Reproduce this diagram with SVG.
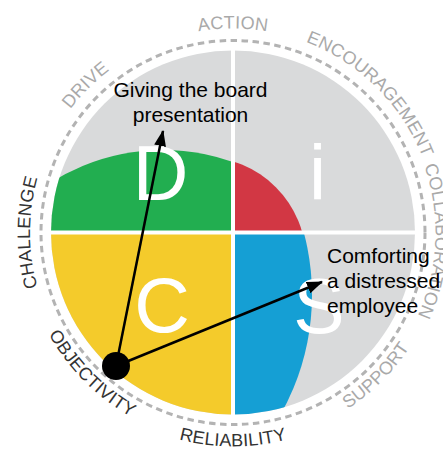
<svg xmlns="http://www.w3.org/2000/svg" width="443" height="452" viewBox="0 0 443 452">
<style>
.big{font-family:"Liberation Sans",Arial,sans-serif;font-size:77px;fill:#ffffff;text-anchor:middle}
.lbl{font-family:"Liberation Sans",Arial,sans-serif;font-size:18px;letter-spacing:0.2px;text-anchor:middle}
.lo{fill:#a9a9a9}
.hi{fill:#333333}
.note{font-family:"Liberation Sans",Arial,sans-serif;font-size:21px;fill:#000000}
.conn{stroke:#000000;stroke-width:2.5;fill:none}
</style>
<defs>
<clipPath id="qD"><path d="M233,232.5 L51,232.5 A182,182 0 0 1 233,50.5 Z"/></clipPath>
<clipPath id="qI"><path d="M233,232.5 L233,50.5 A182,182 0 0 1 415,232.5 Z"/></clipPath>
<clipPath id="qS"><path d="M233,232.5 L415,232.5 A182,182 0 0 1 233,414.5 Z"/></clipPath>
<path id="pAction" d="M29,232.5 A204,204 0 0 1 437,232.5"/>
<path id="pDrive" d="M88.8,376.8 A204,204 0 0 1 377.2,88.2"/>
<path id="pEnc" d="M88.0,89.0 A204,204 0 0 1 378.0,376.0"/>
<path id="pColl" d="M241.9,28.7 A204,204 0 0 1 224.1,436.3"/>
<path id="pChal" d="M233,435.5 A203,203 0 0 1 233,29.5"/>
<path id="pRel" d="M19,232.5 A214,214 0 0 0 447,232.5"/>
<path id="pSup" d="M81.7,383.8 A214,214 0 0 0 384.3,81.2"/>
<path id="pObj" d="M81.7,81.2 A214,214 0 0 0 384.3,383.8"/>
<marker id="arr" markerUnits="userSpaceOnUse" markerWidth="16" markerHeight="12" refX="15" refY="6" orient="auto">
<path d="M0,0 L16,6 L0,12 Z" fill="#000000"/>
</marker>
</defs>

<g id="wheel">
<circle cx="233" cy="232.5" r="182" fill="#d9dadb"/>
<g id="quadrant-D"><circle cx="163" cy="360" r="210" fill="#22ae50" clip-path="url(#qD)"/></g>
<g id="quadrant-i"><circle cx="203" cy="260" r="103" fill="#d23744" clip-path="url(#qI)"/></g>
<g id="quadrant-S"><circle cx="69" cy="295" r="243" fill="#159fd4" clip-path="url(#qS)"/></g>
<g id="quadrant-C"><path d="M233,232.5 L233,414.5 A182,182 0 0 1 51,232.5 Z" fill="#f4cb2b"/></g>
<line x1="233" y1="50" x2="233" y2="415" stroke="#ffffff" stroke-width="4"/>
<line x1="50" y1="232.5" x2="416" y2="232.5" stroke="#ffffff" stroke-width="4"/>
<text class="big" x="160.5" y="200">D</text>
<text class="big" x="317.5" y="200">i</text>
<text class="big" x="162" y="332">C</text>
<text class="big" x="319" y="333">S</text>
<circle cx="233" cy="232.5" r="192" fill="none" stroke="#b3b3b3" stroke-width="3" stroke-dasharray="6.5 4.5"/>
</g>

<g id="labels">
<text class="lbl lo"><textPath href="#pAction" startOffset="50%">ACTION</textPath></text>
<text class="lbl lo"><textPath href="#pDrive" startOffset="50%">DRIVE</textPath></text>
<text class="lbl lo"><textPath href="#pEnc" startOffset="50%">ENCOURAGEMENT</textPath></text>
<text class="lbl lo"><textPath href="#pColl" startOffset="50%">COLLABORATION</textPath></text>
<text class="lbl lo"><textPath href="#pSup" startOffset="50%">SUPPORT</textPath></text>
<text class="lbl hi"><textPath href="#pRel" startOffset="50%">RELIABILITY</textPath></text>
<text class="lbl hi"><textPath href="#pObj" startOffset="50%">OBJECTIVITY</textPath></text>
<text class="lbl hi"><textPath href="#pChal" startOffset="50%">CHALLENGE</textPath></text>
</g>

<g id="connectors">
<line class="conn" x1="116" y1="366" x2="163" y2="131" marker-end="url(#arr)"/>
<line class="conn" x1="116" y1="366" x2="322" y2="282" marker-end="url(#arr)"/>
</g>

<g id="origin"><circle cx="116" cy="366" r="14" fill="#000000"/></g>

<g id="note-board">
<text class="note" x="190.5" y="97" text-anchor="middle">Giving the board</text>
<text class="note" x="190.5" y="121.5" text-anchor="middle">presentation</text>
</g>
<g id="note-comfort">
<text class="note" x="327" y="263">Comforting</text>
<text class="note" x="327" y="288">a distressed</text>
<text class="note" x="327" y="313">employee</text>
</g>
</svg>
